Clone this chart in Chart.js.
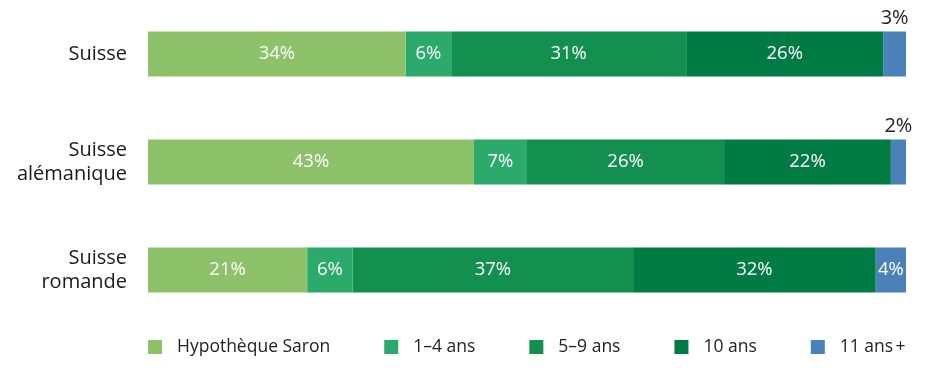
<!DOCTYPE html>
<html>
<head>
<meta charset="utf-8">
<script src="https://cdn.jsdelivr.net/npm/chart.js@4/dist/chart.umd.min.js"></script>
<style>
html,body{margin:0;padding:0;background:#fff;}
#wrap{width:927px;height:374px;position:relative;}
</style>
</head>
<body>
<div id="wrap"><canvas id="c"></canvas></div>
<script>
const categories = [["Suisse"], ["Suisse", "alémanique"], ["Suisse", "romande"]];
const seriesNames = ["Hypothèque Saron", "1–4 ans", "5–9 ans", "10 ans", "11 ans\u202F+"];
const saron = [34, 43, 21];
const ans1to4 = [6, 7, 6];
const ans5to9 = [31, 26, 37];
const ans10 = [26, 22, 32];
const ans11plus = [3, 2, 4];
const colors = ["#8DC26B", "#2BAA6C", "#13904F", "#007B43", "#4A81B9"];

const FONT = "'Open Sans', 'Noto Sans', sans-serif";
const seriesData = [saron, ans1to4, ans5to9, ans10, ans11plus];

const labelPlugin = {
  id: 'valueLabels',
  afterDatasetsDraw(chart) {
    const ctx = chart.ctx;
    ctx.save();
    ctx.font = "18.5px " + FONT;
    ctx.textAlign = 'center';
    chart.data.datasets.forEach((ds, di) => {
      const meta = chart.getDatasetMeta(di);
      meta.data.forEach((el, i) => {
        const v = ds.data[i];
        const cx = (el.x + el.base) / 2;
        if (v <= 3) {
          ctx.fillStyle = '#222';
          ctx.textBaseline = 'bottom';
          ctx.font = "20px " + FONT;
          ctx.fillText(v + '%', cx, el.y - el.height / 2 - 3);
          ctx.font = "18.5px " + FONT;
        } else {
          ctx.fillStyle = '#fff';
          ctx.textBaseline = 'middle';
          ctx.fillText(v + '%', cx, el.y);
        }
      });
    });
    ctx.restore();
  }
};

const legendPlugin = {
  id: 'customLegend',
  afterDraw(chart) {
    const ctx = chart.ctx;
    ctx.save();
    ctx.font = "17.5px " + FONT;
    ctx.textBaseline = 'middle';
    ctx.textAlign = 'left';
    let x = chart.chartArea.left;
    const y = 347;
    chart.data.datasets.forEach((ds) => {
      ctx.fillStyle = ds.backgroundColor;
      ctx.fillRect(x, y - 7, 14, 14);
      ctx.fillStyle = '#222';
      ctx.fillText(ds.label, x + 29, y);
      x += 29 + ctx.measureText(ds.label).width + 54;
    });
    ctx.restore();
  }
};

new Chart(document.getElementById('c'), {
  type: 'bar',
  data: {
    labels: categories,
    datasets: seriesNames.map((n, i) => ({
      label: n,
      data: seriesData[i],
      backgroundColor: colors[i],
      borderWidth: 0,
      barPercentage: 1,
      categoryPercentage: 45 / 108
    }))
  },
  options: {
    indexAxis: 'y',
    responsive: true,
    maintainAspectRatio: false,
    animation: false,
    layout: { padding: { top: 0, right: 21, bottom: 50, left: 0 } },
    plugins: { legend: { display: false }, tooltip: { enabled: false } },
    scales: {
      x: { stacked: true, min: 0, max: 100, display: false },
      y: {
        stacked: true,
        grid: { display: false },
        border: { display: false },
        ticks: { color: '#1a1a1a', font: { family: FONT, size: 20, lineHeight: 1.2 }, padding: 13 },
        afterFit(scale) { scale.width = 148; scale.paddingTop = 0; scale.paddingBottom = 0; }
      }
    }
  },
  plugins: [labelPlugin, legendPlugin]
});
</script>
</body>
</html>
